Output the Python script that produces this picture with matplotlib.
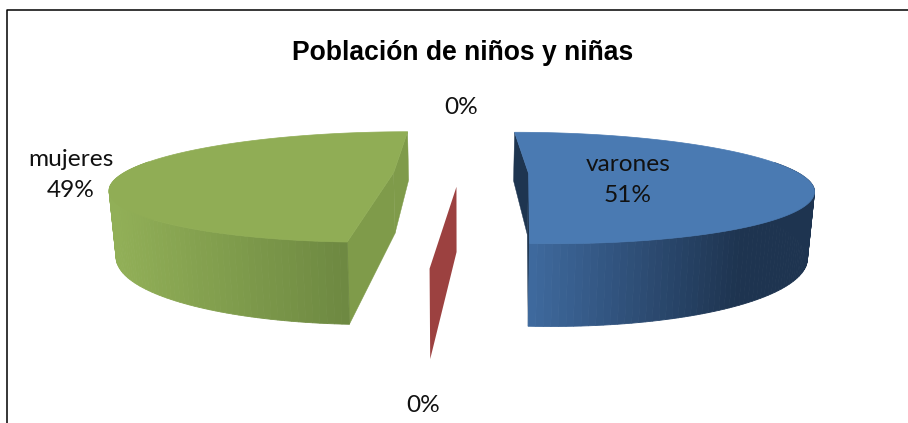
import numpy as np
import matplotlib
matplotlib.use('Agg')
import matplotlib.pyplot as plt
from matplotlib.colors import to_rgb
from matplotlib.patches import Polygon

# data
categories = ['varones', '', 'mujeres', '']
values = [51, 0, 49, 0]
percent_labels = ['51%', '0%', '49%', '0%']

top_colors = ['#4A7AB2', '#9C4140', '#90AD55', '#7D60A0']
face_colors = ['#1E3550', '#9C4140', '#7F9B4A', '#7D60A0']
wall_left = ['#3F6A9F', '#9C4140', '#91AF57', '#7D60A0']
wall_right = ['#1E3450', '#9C4140', '#6D8841', '#7D60A0']
wall_span = [(528, 740), (0, 1), (115, 349), (0, 1)]

# pie camera, in pixels
cx, cy = 461, 173
F = 270.0
G = 51.7
H = 61.0
k = 0.261
explode = 0.25
bottom_scale = 0.98


def project(x, y, h):
    w = 1 + k * y
    px = cx + F * x / w * (1 - (1 - bottom_scale) * h)
    py = cy + (-G * y + H * h) / w
    return np.column_stack([px, py])


def mix(c1, c2, t):
    t = min(max(t, 0), 1)
    a, b = np.array(to_rgb(c1)), np.array(to_rgb(c2))
    return tuple(a + (b - a) * t)


fig = plt.figure(figsize=(9.08, 4.23), dpi=100)
ax = fig.add_axes([0, 0, 1, 1])
ax.set_xlim(0, 908)
ax.set_ylim(423, 0)
ax.axis('off')

# frame of the chart, cut by the crop on the right and at the bottom
ax.plot([6.5, 6.5, 908], [423, 10.5, 10.5], color='black', lw=1.1, solid_capstyle='butt')

ang = 0.0
total = float(sum(values))
for i, val in enumerate(values):
    a0 = ang
    a1 = ang + val / total * 2 * np.pi
    ang = a1
    mid = (a0 + a1) / 2
    ex, ey = explode * np.sin(mid), explode * np.cos(mid)
    th = np.linspace(a0, a1, max(int(val * 3), 2))
    ox, oy = ex + np.sin(th), ey + np.cos(th)

    if val == 0:
        # empty slice, only its cut face shows, and only facing the viewer
        if np.cos(mid) < 0:
            q = np.vstack([project(np.array([ex, ox[0]]), np.array([ey, oy[0]]), 0),
                           project(np.array([ox[0], ex]), np.array([oy[0], ey]), 1)])
            ax.add_patch(Polygon(q, closed=True, fc=face_colors[i], ec='none', zorder=3))
        continue

    # cut faces
    for j in (0, -1):
        q = np.vstack([project(np.array([ex, ox[j]]), np.array([ey, oy[j]]), 0),
                       project(np.array([ox[j], ex]), np.array([oy[j], ey]), 1)])
        ax.add_patch(Polygon(q, closed=True, fc=face_colors[i], ec=face_colors[i], lw=0.3, zorder=2))

    # outer wall, shaded by strips
    top = project(ox, oy, 0)
    bot = project(ox, oy, 1)
    x0, x1 = wall_span[i]
    for j in range(len(th) - 1):
        if np.cos(th[j]) > 0.2 and np.cos(th[j + 1]) > 0.2:
            continue
        q = [top[j], top[j + 1], bot[j + 1], bot[j]]
        t = ((top[j][0] + top[j + 1][0]) / 2 - x0) / (x1 - x0)
        c = mix(wall_left[i], wall_right[i], t)
        ax.add_patch(Polygon(q, closed=True, fc=c, ec=c, lw=0.6, zorder=3))

    # top of the slice
    ctr = project(np.array([ex]), np.array([ey]), 0)
    ax.add_patch(Polygon(np.vstack([ctr, top]), closed=True, fc=top_colors[i], ec=top_colors[i],
                         lw=0.5, zorder=4))

ax.text(462.5, 53.5, 'Población de niños y niñas', ha='center', va='center', fontsize=19.1,
        fontweight='bold', family='Liberation Sans', color='black', zorder=6)

label_font = 'Lato'
ax.text(628, 180, categories[0] + '\n' + percent_labels[0], ha='center', va='center', fontsize=17.6,
        family=label_font, color='#111111', linespacing=1.6, zorder=6)
ax.text(71, 175, categories[2] + '\n' + percent_labels[2], ha='center', va='center', fontsize=17.6,
        family=label_font, color='#111111', linespacing=1.6, zorder=6)
ax.text(461, 108, percent_labels[3], ha='center', va='center', fontsize=17.6,
        family=label_font, color='#111111', zorder=6)
ax.text(423, 405, percent_labels[1], ha='center', va='center', fontsize=17.6,
        family=label_font, color='#111111', zorder=6)

fig.savefig('out.png', dpi=100, facecolor='w')
